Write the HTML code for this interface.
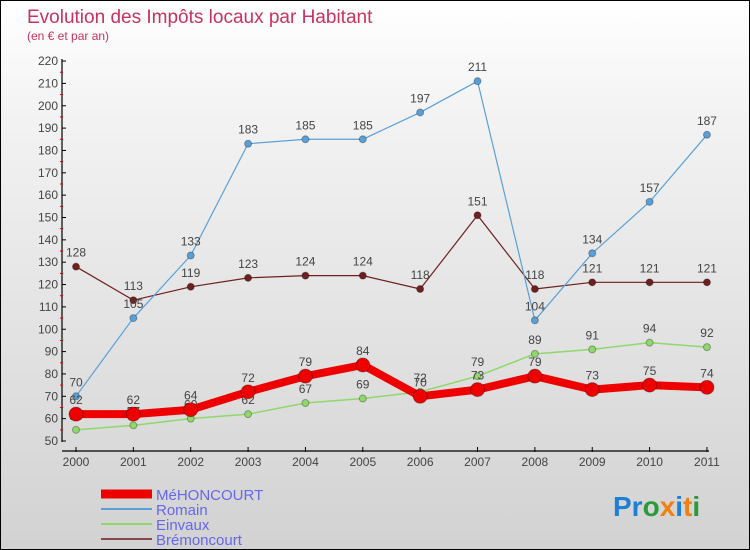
<!DOCTYPE html>
<html><head><meta charset="utf-8"><style>
body{margin:0}
#c{width:750px;height:550px;position:relative;overflow:hidden;box-sizing:border-box;border:1px solid #000;background:linear-gradient(#fff,#f3f3f3 20%,#d2d2d2);font-family:"Liberation Sans",sans-serif}
svg text{font-family:"Liberation Sans",sans-serif}
</style></head><body>
<div id="c">
<svg id="s" width="750" height="550">
<text x="26" y="22" font-size="19" fill="#c8325e">Evolution des Impôts locaux par Habitant</text>
<text x="26" y="39" font-size="12" fill="#c8325e">(en € et par an)</text>
<g id="axes"></g><g id="series"></g>
<text x="612" y="515" font-size="28" font-weight="bold"><tspan fill="#1e7fd6">Pr</tspan><tspan fill="#2a9a3a">o</tspan><tspan fill="#f08010">x</tspan><tspan fill="#1e7fd6">i</tspan><tspan fill="#f08010">t</tspan><tspan fill="#2a9a3a">i</tspan></text>
</svg>
</div>
<script>
const years=["2000","2001","2002","2003","2004","2005","2006","2007","2008","2009","2010","2011"];
const yTicks=[50,60,70,80,90,100,110,120,130,140,150,160,170,180,190,200,210,220];
const mehoncourt=[62,62,64,72,79,84,70,73,79,73,75,74];
const romain=[70,105,133,183,185,185,197,211,104,134,157,187];
const einvaux=[55,57,60,62,67,69,72,79,89,91,94,92];
const bremoncourt=[128,113,119,123,124,124,118,151,118,121,121,121];
const NS="http://www.w3.org/2000/svg";
const X=i=>75+i*57.36, Y=v=>440-(v-50)*2.235;
function mk(t,a,p){const e=document.createElementNS(NS,t);for(const k in a)e.setAttribute(k,a[k]);p.appendChild(e);return e;}
const ax=document.getElementById('axes'), sg=document.getElementById('series');
const yl=mk('line',{x1:61,y1:58,x2:61,y2:441,stroke:'#000','stroke-width':1.2},ax);


yTicks.forEach(v=>{
 mk('line',{x1:61,x2:65,y1:Y(v),y2:Y(v),stroke:'#000'},ax);
 if(v<220)mk('line',{x1:59,x2:62,y1:Y(v+5),y2:Y(v+5),stroke:'#e00'},ax);
 const t=mk('text',{x:57,y:Y(v)+4,'font-size':12,'text-anchor':'end',fill:'#444'},ax);t.textContent=v;
 
 
});
const xl=mk('line',{x1:61,y1:450,x2:708,y2:450,stroke:'#000','stroke-width':1.2},ax);


years.forEach((y,i)=>{
 mk('line',{x1:X(i),x2:X(i),y1:446,y2:451,stroke:'#000'},ax);
 const t=mk('text',{x:X(i),y:465,'font-size':12,'text-anchor':'middle',fill:'#444'},ax);t.textContent=y;
 
 
});
function series(d,col,w,r,name){
 const g=mk('g',{},sg);
 
 
 mk('polyline',{points:d.map((v,i)=>X(i)+','+Y(v)).join(' '),fill:'none',stroke:col,'stroke-width':w,'stroke-linejoin':'round'},g);
 d.forEach((v,i)=>{
  const c=mk('circle',{cx:X(i),cy:Y(v),r:r,fill:col,stroke:'rgba(0,0,0,0.3)'},g);
  
  
  const t=mk('text',{x:X(i),y:Y(v)-10,'font-size':12,'text-anchor':'middle',fill:'#444'},g);t.textContent=v;
  
  
 });
}
series(bremoncourt,'#6e2020',1.2,3.5,'bremoncourt');
series(romain,'#5aa0d8',1.2,3.5,'romain');
series(einvaux,'#8fd86a',1.5,3.5,'einvaux');
series(mehoncourt,'#ee0000',8,7,'mehoncourt');
const leg=[['MéHONCOURT','#ee0000',9],['Romain','#5aa0d8',2],['Einvaux','#8fd86a',2],['Brémoncourt','#8a4848',2]];
leg.forEach((l,i)=>{
 const y=493+i*15;
 const g=mk('g',{},sg);
 
 
 mk('line',{x1:100,x2:151,y1:y,y2:y,stroke:l[1],'stroke-width':l[2]},g);
 const t=mk('text',{x:155,y:y+6,'font-size':15,fill:'#6666ee'},g);t.textContent=l[0];
});
</script>
</body></html>
